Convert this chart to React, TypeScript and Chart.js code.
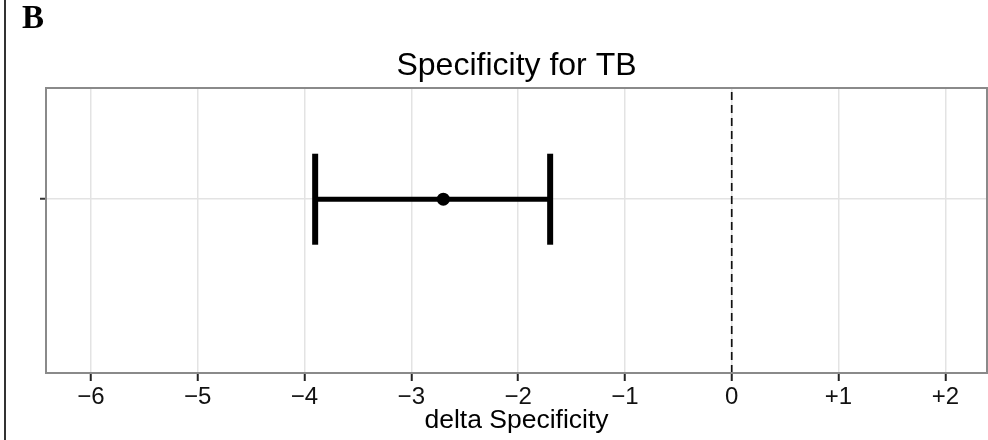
import React, { useEffect, useRef } from 'react';
import { Chart, registerables } from 'chart.js';

Chart.register(...registerables);

// ---- data ----
const categories = ['TB'];
const estimates = [-2.7];
const ciLower = [-3.9];
const ciUpper = [-1.7];
const rowPositions = [1];
const xTicks = [-6, -5, -4, -3, -2, -1, 0, 1, 2];
const xRange = [-6.42, 2.39];
const yRange = [0, 1.64];
const referenceValue = 0;
const titleText = 'Specificity for TB';
const xAxisTitle = 'delta Specificity';
const panelLabel = 'B';

const FONT = "'Liberation Sans', Arial, Helvetica, sans-serif";

const framePlugin = {
  id: 'frame',
  afterDatasetsDraw(chart: any) {
    const { ctx, chartArea } = chart;
    ctx.save();
    ctx.strokeStyle = '#8a8a8a';
    ctx.lineWidth = 2;
    ctx.strokeRect(chartArea.left, chartArea.top, chartArea.right - chartArea.left, chartArea.bottom - chartArea.top);
    ctx.restore();
  },
};

export default function App() {
  const canvasRef = useRef<HTMLCanvasElement | null>(null);

  useEffect(() => {
    document.body.style.margin = '0';
    const canvas = canvasRef.current;
    if (!canvas) return;

    const whiskers = categories.map((c, i) => ({
      type: 'line' as const,
      label: c + ' CI',
      data: [
        { x: ciLower[i], y: rowPositions[i] },
        { x: ciUpper[i], y: rowPositions[i] },
      ],
      borderColor: '#000',
      borderWidth: 5,
      pointRadius: 0,
      order: 3,
    }));

    const caps = {
      type: 'scatter' as const,
      label: 'caps',
      data: categories.flatMap((c, i) => [
        { x: ciLower[i], y: rowPositions[i] },
        { x: ciUpper[i], y: rowPositions[i] },
      ]),
      pointStyle: 'line',
      rotation: 90,
      pointRadius: 45.5,
      pointHoverRadius: 45.5,
      borderColor: '#000',
      borderWidth: 6,
      backgroundColor: '#000',
      order: 2,
    };

    const points = {
      type: 'scatter' as const,
      label: 'estimate',
      data: categories.map((c, i) => ({ x: estimates[i], y: rowPositions[i] })),
      pointStyle: 'circle',
      pointRadius: 6.5,
      pointBackgroundColor: '#000',
      pointBorderColor: '#000',
      pointBorderWidth: 0,
      order: 1,
    };

    const refLine = {
      type: 'line' as const,
      label: 'ref',
      data: [
        { x: referenceValue, y: yRange[0] },
        { x: referenceValue, y: yRange[1] },
      ],
      borderColor: '#111',
      borderWidth: 1.7,
      borderDash: [8, 5],
      pointRadius: 0,
      order: 4,
    };

    const chart = new Chart(canvas, {
      type: 'scatter',
      data: { datasets: [refLine, ...whiskers, caps, points] as any },
      options: {
        animation: false,
        responsive: false,
        maintainAspectRatio: false,
        layout: { autoPadding: false, padding: { left: 0, right: 1, top: 0, bottom: 0 } },
        plugins: {
          legend: { display: false },
          tooltip: { enabled: false },
          title: {
            display: true,
            text: titleText,
            fullSize: false,
            color: '#000',
            font: { family: FONT, size: 32, weight: 'normal', lineHeight: 1.2 },
            padding: { top: 46.8, bottom: 2.8 },
          },
        },
        scales: {
          x: {
            type: 'linear',
            min: xRange[0],
            max: xRange[1],
            afterBuildTicks: (scale: any) => {
              scale.ticks = xTicks.map((v) => ({ value: v }));
            },
            afterFit: (scale: any) => {
              scale.height = 67;
            },
            ticks: {
              color: '#111',
              font: { family: FONT, size: 24 },
              padding: 1.5,
              maxRotation: 0,
              autoSkip: false,
              callback: (v: any) => {
                const n = Number(v);
                if (n < 0) return '\u2212' + Math.abs(n);
                if (n > 0) return '+' + n;
                return '0';
              },
            },
            grid: {
              color: '#e3e3e3',
              lineWidth: 1.5,
              tickColor: '#222',
              tickLength: 8,
              tickWidth: 2,
              drawTicks: true,
            },
            border: { display: false },
            title: {
              display: true,
              text: xAxisTitle,
              color: '#000',
              font: { family: FONT, size: 26.5, lineHeight: 1.2 },
              padding: { top: 0, bottom: 3 },
            },
          },
          y: {
            type: 'linear',
            min: yRange[0],
            max: yRange[1],
            afterBuildTicks: (scale: any) => {
              scale.ticks = rowPositions.map((v) => ({ value: v }));
            },
            afterFit: (scale: any) => {
              scale.width = 46;
            },
            ticks: {
              callback: () => '',
              padding: 0,
            },
            grid: {
              color: '#e3e3e3',
              lineWidth: 1.5,
              tickColor: '#333',
              tickLength: 6,
              tickWidth: 2,
            },
            border: { display: false },
          },
        },
      },
      plugins: [framePlugin],
    });

    return () => chart.destroy();
  }, []);

  return (
    <div style={{ position: 'relative', width: 988, height: 440, background: '#fff' }}>
      <canvas ref={canvasRef} width={988} height={440} style={{ display: 'block' }} />
      <div
        style={{
          position: 'absolute',
          left: 4,
          top: 0,
          width: 2,
          height: 440,
          background: '#333',
        }}
      />
      <div
        style={{
          position: 'absolute',
          left: 22,
          top: 1,
          fontFamily: "'Liberation Serif', 'Times New Roman', serif",
          fontWeight: 'bold',
          fontSize: 33,
          lineHeight: '33px',
          color: '#000',
        }}
      >
        {panelLabel}
      </div>
    </div>
  );
}
